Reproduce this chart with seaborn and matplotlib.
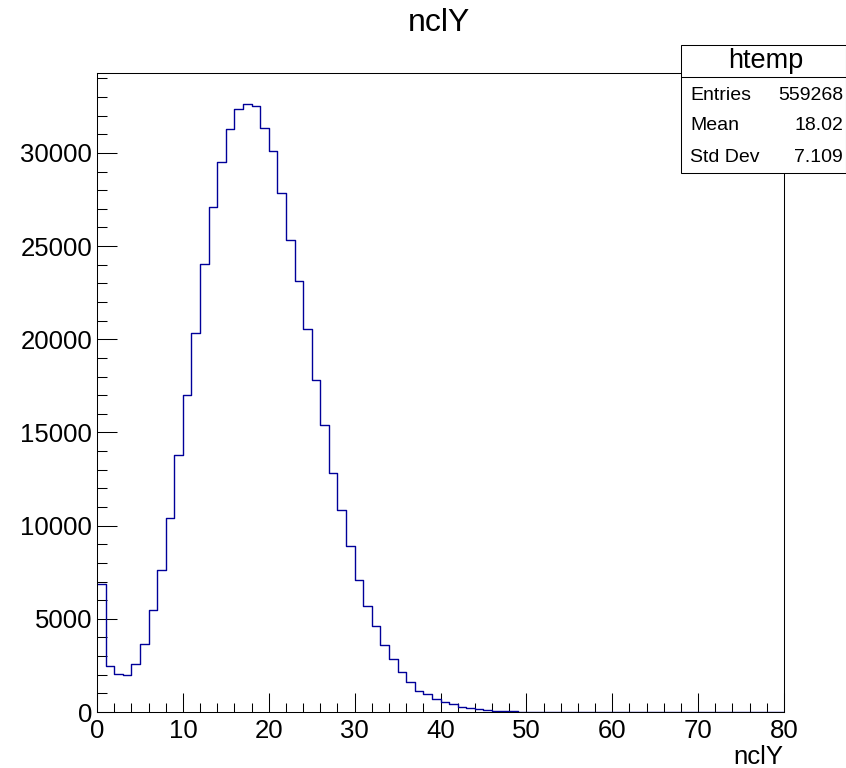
import numpy as np
import pandas as pd
import matplotlib
matplotlib.use("Agg")
import matplotlib.pyplot as plt
from matplotlib.ticker import MultipleLocator
from matplotlib.patches import Rectangle
from matplotlib.lines import Line2D
import seaborn as sns

# ---- data ----
bin_edges_lo = list(range(0, 80))
counts = [6850, 2485, 2055, 2000, 2560, 3650, 5490, 7640, 10410, 13780,
          17030, 20320, 24030, 27100, 29535, 31270, 32380, 32650, 32520, 31330,
          30110, 27860, 25340, 23115, 20540, 17820, 15410, 12810, 10840, 8910,
          7090, 5710, 4615, 3580, 2845, 2165, 1630, 1145, 966, 700,
          520, 410, 260, 197, 143, 107, 70, 45, 30, 20,
          12, 8, 5, 3, 2, 1, 0, 0, 0, 0,
          0, 0, 0, 0, 0, 0, 0, 0, 0, 0,
          0, 0, 0, 0, 0, 0, 0, 0, 0, 0]
hist_name = "htemp"
var_name = "nclY"
stats_labels = ["Entries", "Mean", "Std Dev"]
stats_values = ["559268", "18.02", "7.109"]
x_range = (0, 80)
y_max = 34290

df = pd.DataFrame({"x": np.array(bin_edges_lo) + 0.5, "w": counts})

sns.set_style("ticks")
plt.rcParams["font.family"] = ["Liberation Sans", "DejaVu Sans"]
plt.rcParams["text.color"] = "black"
plt.rcParams["axes.labelcolor"] = "black"
plt.rcParams["xtick.color"] = "black"
plt.rcParams["ytick.color"] = "black"

W, H = 846, 768
fig = plt.figure(figsize=(W / 100, H / 100), dpi=100)
ax = fig.add_axes([97 / W, 1 - 712 / H, (784 - 97) / W, (712 - 73) / H])

sns.histplot(data=df, x="x", weights="w", bins=80, binrange=x_range,
             element="step", fill=False, color="#000099", linewidth=1.0, ax=ax)

ax.set_xlim(*x_range)
ax.set_ylim(0, y_max)
ax.set_xlabel("")
ax.set_ylabel("")
ax.xaxis.set_major_locator(MultipleLocator(10))
ax.xaxis.set_minor_locator(MultipleLocator(2))
ax.yaxis.set_major_locator(MultipleLocator(5000))
ax.yaxis.set_minor_locator(MultipleLocator(1000))
ax.tick_params(axis="x", which="major", direction="in", length=13.5, width=0.75,
               labelsize=18.5, pad=5, colors="black")
ax.tick_params(axis="x", which="minor", direction="in", length=6.8, width=0.75)
ax.tick_params(axis="y", which="major", direction="in", length=14.5, width=0.75,
               labelsize=18.5, pad=3.5, colors="black")
ax.tick_params(axis="y", which="minor", direction="in", length=7.5, width=0.75)
ax.tick_params(top=False, right=False, which="both")
for s in ax.spines.values():
    s.set_linewidth(0.75)
    s.set_color("black")
    s.set_visible(True)

# title and axis label
fig.text(439 / W, 1 - 23 / H, var_name, ha="center", va="center", fontsize=23, color="black")
fig.text(783 / W, 1 - 757 / H, var_name, ha="right", va="center", fontsize=18.5, color="black")

# stats box
bx0, bx1, by0, by1 = 681 / W, 845.5 / W, 1 - 173 / H, 1 - 45 / H
fig.patches.append(Rectangle((bx0, by0), bx1 - bx0, by1 - by0, transform=fig.transFigure,
                             facecolor="white", edgecolor="black", linewidth=0.75, zorder=5))
fig.lines.append(Line2D([bx0, bx1], [1 - 77 / H, 1 - 77 / H], transform=fig.transFigure,
                        color="black", linewidth=0.75, zorder=6))
fig.text(766 / W, 1 - 61 / H, hist_name, ha="center", va="center", fontsize=19.5,
         color="black", zorder=7)
for i, (lab, val) in enumerate(zip(stats_labels, stats_values)):
    yy = 1 - (95 + 31 * i) / H
    fig.text(690 / W, yy, lab, ha="left", va="center", fontsize=14, color="black", zorder=7)
    fig.text(843 / W, yy, val, ha="right", va="center", fontsize=14, color="black", zorder=7)

fig.savefig("out.png", dpi=100)
